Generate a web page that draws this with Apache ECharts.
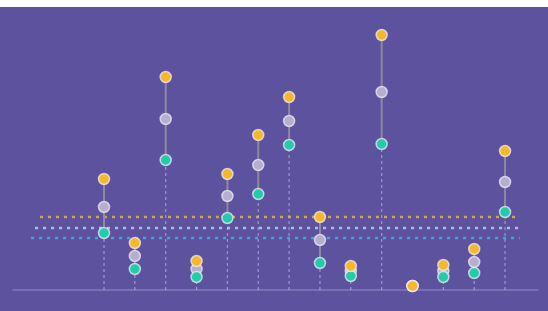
<!DOCTYPE html>
<html>
<head>
<meta charset="UTF-8">
<title>Dot range chart</title>
<style>
    body { margin: 0; background: #ffffff; }
    #chartArea {
        position: absolute;
        top: 7px;
        left: 0;
        width: 548px;
        height: 304px;
    }
</style>
</head>
<body>
<div id="chartArea"></div>
<script src="https://cdn.jsdelivr.net/npm/echarts@6/dist/echarts.min.js"></script>
<script>
// one column per item
var columns   = [1, 2, 3, 4, 5, 6, 7, 8, 9, 10, 11, 12, 13, 14];
var topVals   = [111, 47, 213, 29, 116, 155, 193, 73, 24, 255, 4, 25, 41, 139];
var midVals   = [83, 34, 171, 21, 94, 125, 169, 50, 19, 198, 4, 19, 28, 108];
var lowVals   = [57, 21, 130, 13, 72, 96, 145, 27, 14, 146, 4, 13, 17, 78];
// dashed reference levels (top / mid / low)
var refLevels = [73, 62, 52];

var colTop = '#f5b82b', colMid = '#b6aecd', colLow = '#22cca6';

var myChart = echarts.init(document.getElementById('chartArea'));

function pairs(vals) {
    return columns.map(function (c, i) { return [c, vals[i]]; });
}

function refLine(level, x0, color) {
    return {
        type: 'line',
        data: [[x0, level], [14.48, level]],
        symbol: 'none',
        silent: true,
        z: 1,
        lineStyle: { color: color, width: 2.5, type: [3, 5] }
    };
}

myChart.setOption({
    backgroundColor: '#5c529e',
    animation: false,
    grid: { left: 13, right: 10, top: 0, bottom: 21 },
    xAxis: {
        type: 'value',
        min: -1.95,
        max: 15.068,
        splitLine: { show: false },
        axisTick: { show: false },
        axisLabel: { show: false },
        axisLine: { show: true, lineStyle: { color: '#8279bd', width: 1.5 } }
    },
    yAxis: {
        type: 'value',
        min: 0,
        max: 283,
        show: false,
        splitLine: { show: false }
    },
    series: [
        refLine(refLevels[0], -1.075, '#cfa150'),
        refLine(refLevels[1], -1.237, '#c0b3e2'),
        refLine(refLevels[2], -1.366, '#3aaacd'),
        {
            type: 'custom',
            silent: true,
            z: 2,
            data: columns.map(function (c, i) {
                return [c, Math.max(topVals[i], midVals[i], lowVals[i]), Math.min(topVals[i], midVals[i], lowVals[i])];
            }),
            renderItem: function (params, api) {
                var base = api.coord([api.value(0), 0]);
                var hi = api.coord([api.value(0), api.value(1)]);
                var lo = api.coord([api.value(0), api.value(2)]);
                return {
                    type: 'group',
                    children: [{
                        type: 'line',
                        shape: { x1: base[0], y1: base[1], x2: lo[0], y2: lo[1] },
                        style: { stroke: 'rgba(205,195,235,0.6)', lineWidth: 1.2, lineDash: [3, 3] }
                    }, {
                        type: 'line',
                        shape: { x1: lo[0], y1: lo[1], x2: hi[0], y2: hi[1] },
                        style: { stroke: '#8e8a9e', lineWidth: 2 }
                    }]
                };
            }
        },
        {
            type: 'scatter', data: pairs(midVals), symbolSize: 11, z: 3,
            itemStyle: { color: colMid, borderColor: 'rgba(240,235,250,0.75)', borderWidth: 1.5, opacity: 1 }
        },
        {
            type: 'scatter', data: pairs(lowVals), symbolSize: 11, z: 4,
            itemStyle: { color: colLow, borderColor: 'rgba(240,235,250,0.75)', borderWidth: 1.5, opacity: 1 }
        },
        {
            type: 'scatter', data: pairs(topVals), symbolSize: 11, z: 5,
            itemStyle: { color: colTop, borderColor: 'rgba(240,235,250,0.75)', borderWidth: 1.5, opacity: 1 }
        }
    ]
});
</script>
</body>
</html>
